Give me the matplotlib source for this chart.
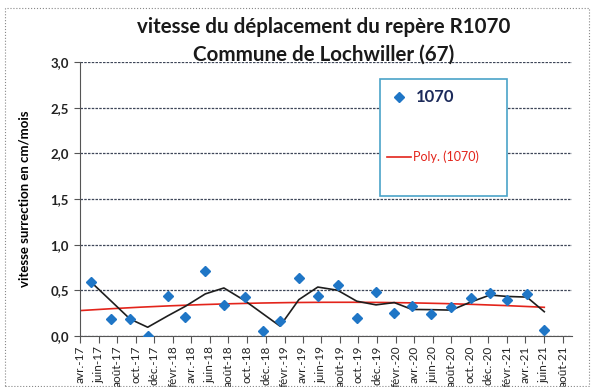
import matplotlib.pyplot as plt
import matplotlib.dates as mdates
from matplotlib.patches import Rectangle
from matplotlib.lines import Line2D
import numpy as np
import pandas as pd

# survey dates and speed of benchmark R1070 (cm/month)
dates = ['2017-05-07', '2017-07-11', '2017-09-12', '2017-11-09', '2018-01-14',
         '2018-03-13', '2018-05-17', '2018-07-17', '2018-09-24', '2018-11-23',
         '2019-01-17', '2019-03-20', '2019-05-21', '2019-07-25', '2019-09-26',
         '2019-11-28', '2020-01-27', '2020-03-25', '2020-05-27', '2020-08-01',
         '2020-10-03', '2020-12-06', '2021-01-30', '2021-04-06', '2021-06-02']
vitesse = [0.59, 0.18, 0.19, 0.00, 0.44, 0.21, 0.71, 0.34, 0.43, 0.05,
           0.165, 0.63, 0.44, 0.56, 0.20, 0.48, 0.25, 0.33, 0.245, 0.32,
           0.42, 0.475, 0.39, 0.46, 0.07]

tick_labels = ['avr.-17', 'juin-17', 'août-17', 'oct.-17', 'déc.-17',
               'févr.-18', 'avr.-18', 'juin-18', 'août-18', 'oct.-18', 'déc.-18',
               'févr.-19', 'avr.-19', 'juin-19', 'août-19', 'oct.-19', 'déc.-19',
               'févr.-20', 'avr.-20', 'juin-20', 'août-20', 'oct.-20', 'déc.-20',
               'févr.-21', 'avr.-21', 'juin-21', 'août-21']

plt.rcParams['font.family'] = ['Lato', 'DejaVu Sans']

d = pd.to_datetime(dates)
s = pd.Series(vitesse, index=d)

fig = plt.figure(figsize=(5.94, 3.87), dpi=100)
ax = fig.add_axes([0.1347, 0.132, 0.963 - 0.1347, 0.708])

# moving average (2 periods)
ma = s.rolling(2, min_periods=1).mean()
ax.plot(d, ma.values, color='#1e1e1e', lw=1.2, zorder=3)

# polynomial trend, order 2
x_num = mdates.date2num(d)
coef = np.polyfit(x_num, vitesse, 2)
xt = np.linspace(mdates.date2num(pd.Timestamp('2017-04-01')), x_num[-1], 200)
ax.plot(mdates.num2date(xt), np.polyval(coef, xt), color='#e3241b', lw=1.2, zorder=2)

ax.plot(d, vitesse, 'D', color='#1f76c6', ms=5.5, ls='none', zorder=4)

ax.set_ylim(0, 3.0)
ax.set_xlim(pd.Timestamp('2017-04-01'), pd.Timestamp('2021-09-01'))
ax.set_yticks(np.arange(0, 3.01, 0.5))
ax.set_yticklabels([f'{v:.1f}'.replace('.', ',') for v in np.arange(0, 3.01, 0.5)],
                   fontsize=9.5, fontweight='bold', color='#222222')
ticks = pd.date_range('2017-04-01', '2021-08-01', freq='2MS')
ax.set_xticks(ticks)
ax.set_xticklabels(tick_labels, rotation=90, fontsize=8.5, color='#222222')
ax.tick_params(axis='x', length=5, color='#555555', pad=2)
ax.tick_params(axis='y', length=4, color='#555555', pad=4)

ax.grid(axis='y', color='#3e4658', lw=0.9, ls=(0, (2, 1)))
ax.set_axisbelow(True)
for side in ['top', 'right']:
    ax.spines[side].set_visible(False)
ax.spines['left'].set_color('#555555')
ax.spines['bottom'].set_color('#555555')

ax.set_ylabel('vitesse surrection en cm/mois', fontsize=9.5, fontweight='bold', labelpad=14)

W, H = 594.0, 387.0
fig.text(324 / W, 1 - 33 / H, 'vitesse du déplacement du repère R1070', ha='center',
         va='baseline', fontsize=14.8, fontweight='bold', color='#1a1a1a')
fig.text(324 / W, 1 - 61 / H, 'Commune de Lochwiller (67)', ha='center',
         va='baseline', fontsize=14.8, fontweight='bold', color='#1a1a1a')

# legend box
fig.patches.append(Rectangle((380 / W, 1 - 196 / H), 127 / W, 117 / H, transform=fig.transFigure,
                             facecolor='white', edgecolor='#4aa3c8', lw=1.2, zorder=5))
fig.add_artist(Line2D([399 / W], [1 - 97 / H], marker='D', color='#1f76c6', ms=5, ls='none',
                      transform=fig.transFigure, zorder=6))
fig.text(416 / W, 1 - 97 / H, '1070', fontsize=12, fontweight='bold', color='#1c2a5a',
         va='center', zorder=6)
fig.add_artist(Line2D([387 / W, 411 / W], [1 - 157 / H, 1 - 157 / H], color='#e3241b', lw=1.2,
                      transform=fig.transFigure, zorder=6))
fig.text(413 / W, 1 - 157 / H, 'Poly. (1070)', fontsize=9, color='#e3241b', va='center', zorder=6)

# outer dotted frame
fig.patches.append(Rectangle((5 / W, 1 / H), 584 / W, 378 / H, transform=fig.transFigure,
                             facecolor='none', edgecolor='#888888', lw=0.8, ls=':'))

fig.savefig('out.png', dpi=100)
